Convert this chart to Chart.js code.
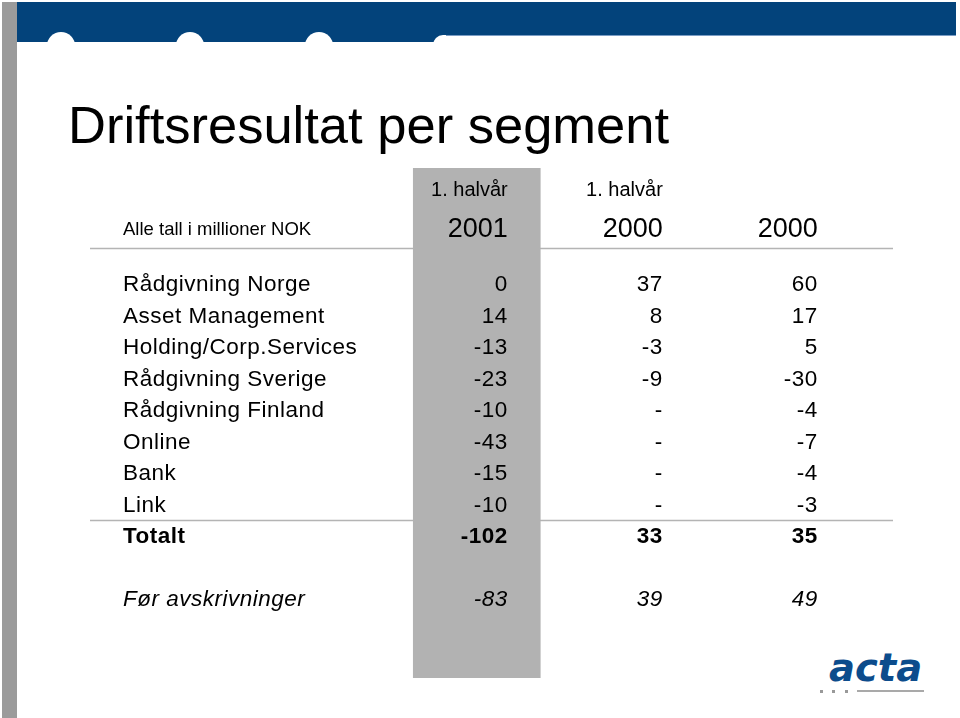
<!DOCTYPE html>
<html>
<head>
<meta charset="utf-8">
<script src="https://cdn.jsdelivr.net/npm/chart.js@4"></script>
<style>
  body { margin: 0; background: #fff; }
  #slide { position: relative; width: 960px; height: 718px; overflow: hidden; background: #fff; }
  .strip { position: absolute; left: 2px; top: 2px; width: 15px; height: 716px; background: #9b9b9b; }
  .topbar { position: absolute; left: 17px; top: 2px; width: 939px; height: 40px; background: #03437b; }
  .bump { position: absolute; width: 28px; height: 28px; border-radius: 14px; background: #fff; top: 32px; }
  .tab { position: absolute; left: 433px; top: 35px; width: 523px; height: 10px; background: #fff; border-top-left-radius: 10px; }
  .edge { position: absolute; left: 446px; top: 35px; width: 510px; height: 1px; background: #7a9cc4; }
  #title { position: absolute; left: 68px; top: 98px; font: 52.5px "Liberation Sans", Arial, sans-serif; line-height: 53px; color: #000; white-space: nowrap; }
  #logo { position: absolute; left: 829px; top: 645px; font: bold oblique 38.5px "DejaVu Sans", sans-serif; color: #0c4c8c; line-height: 46px; }
  .dot { position: absolute; top: 690px; width: 3px; height: 3px; background: #999; }
  .rule { position: absolute; left: 857px; top: 690px; width: 67px; height: 2px; background: #a9a9a9; }
  canvas { position: absolute; left: 0; top: 0; }
</style>
</head>
<body>
<div id="slide">
  <div class="strip"></div>
  <div class="topbar"></div>
  <div class="bump" style="left:47px"></div>
  <div class="bump" style="left:176px"></div>
  <div class="bump" style="left:305px"></div>
  <div class="tab"></div>
  <div class="edge"></div>
  <div id="title">Driftsresultat per segment</div>
  <div id="logo">acta</div>
  <div class="dot" style="left:820px"></div>
  <div class="dot" style="left:832px"></div>
  <div class="dot" style="left:845px"></div>
  <div class="rule"></div>
  <canvas id="myChart" width="960" height="718"></canvas>
</div>
<script>
// table content
var unitLabel = 'Alle tall i millioner NOK';
var periodLabels = ['1. halvår', '1. halvår', ''];
var yearLabels = ['2001', '2000', '2000'];
var segments = ['Rådgivning Norge', 'Asset Management', 'Holding/Corp.Services', 'Rådgivning Sverige',
                'Rådgivning Finland', 'Online', 'Bank', 'Link'];
var h1_2001 = [0, 14, -13, -23, -10, -43, -15, -10];
var h1_2000 = [37, 8, -3, -9, null, null, null, null];
var year_2000 = [60, 17, 5, -30, -4, -7, -4, -3];
var totalLabel = 'Totalt';
var totals = [-102, 33, 35];
var ebitdaLabel = 'Før avskrivninger';
var beforeDepreciation = [-83, 39, 49];

var columns = [h1_2001, h1_2000, year_2000];

// row / column layout in scale units
var yMin = -3.714, yMax = 12.476;
var periodRow = -3.0, yearRow = -1.75, totalRow = 8, ebitdaRow = 10;
var ruleRows = [-1.17, 7.45];

var FONT = '"Liberation Sans", Arial, sans-serif';
var BODY = '22.5px ' + FONT;

function fmt(v) {
  return v === null ? '-' : String(v);
}

var tableText = {
  id: 'tableText',
  beforeDatasetsDraw: function(chart) {
    var ctx = chart.ctx, area = chart.chartArea, y = chart.scales.y;
    ctx.save();
    ctx.strokeStyle = '#b4b4b4';
    ctx.lineWidth = 1.5;
    ruleRows.forEach(function(r) {
      var py = Math.round(y.getPixelForValue(r)) + 0.5;
      ctx.beginPath();
      ctx.moveTo(area.left, py);
      ctx.lineTo(area.right, py);
      ctx.stroke();
    });
    ctx.restore();
  },
  afterDatasetsDraw: function(chart) {
    var ctx = chart.ctx, area = chart.chartArea;
    var x = chart.scales.x, y = chart.scales.y;
    var labelX = area.left + 33;
    function right(c) { return x.getPixelForValue(c + 1) + 31; }
    function text(str, px, row, font, align, spacing) {
      ctx.font = font;
      ctx.letterSpacing = spacing || '0px';
      ctx.textAlign = align;
      ctx.fillText(str, px, y.getPixelForValue(row));
    }
    ctx.save();
    ctx.fillStyle = '#000';
    ctx.textBaseline = 'middle';

    // header
    text(unitLabel, labelX, yearRow, '18.5px ' + FONT, 'left');
    for (var c = 0; c < 3; c++) {
      text(periodLabels[c], right(c), periodRow, '20px ' + FONT, 'right');
      text(yearLabels[c], right(c), yearRow, '27px ' + FONT, 'right');
    }

    // segment rows
    segments.forEach(function(name, i) {
      text(name, labelX, i, BODY, 'left', '0.5px');
      columns.forEach(function(col, c) {
        text(fmt(col[i]), right(c), i, BODY, 'right', '0.5px');
      });
    });

    text(totalLabel, labelX, totalRow, 'bold ' + BODY, 'left', '0.5px');
    totals.forEach(function(v, c) {
      text(fmt(v), right(c), totalRow, 'bold ' + BODY, 'right', '0.5px');
    });

    text(ebitdaLabel, labelX, ebitdaRow, 'italic ' + BODY, 'left', '0.5px');
    beforeDepreciation.forEach(function(v, c) {
      text(fmt(v), right(c), ebitdaRow, 'italic ' + BODY, 'right', '0.5px');
    });
    ctx.restore();
  }
};

var ctx = document.getElementById('myChart');
var myChart = new Chart(ctx, {
  type: 'bar',
  data: {
    datasets: [
      {
        // grey highlight behind the 1. halvår 2001 column
        data: [{ x: 1, y: [yMin, yMax] }],
        backgroundColor: '#b2b2b2',
        borderWidth: 0,
        barThickness: 127
      }
    ]
  },
  options: {
    responsive: false,
    animation: false,
    layout: { padding: { left: 90, right: 67, top: 168, bottom: 40 } },
    scales: {
      x: { type: 'linear', min: -1.495, max: 3.685, offset: false, display: false },
      y: { type: 'linear', min: yMin, max: yMax, reverse: true, display: false }
    },
    plugins: {
      legend: { display: false },
      tooltip: { enabled: false }
    }
  },
  plugins: [tableText]
});
</script>
</body>
</html>
